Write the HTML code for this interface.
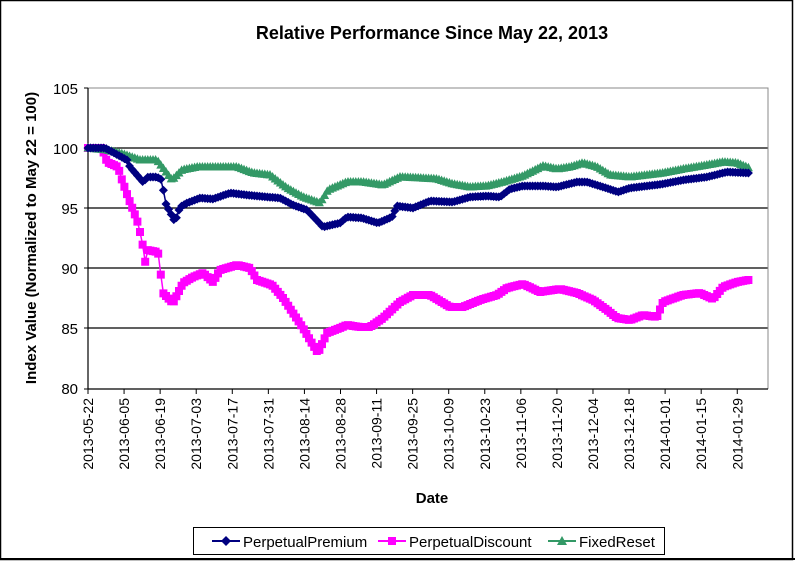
<!DOCTYPE html>
<html><head><meta charset="utf-8"><style>
html,body{margin:0;padding:0;background:#fff;}
svg{display:block;font-family:"Liberation Sans",Arial,sans-serif;}
</style></head><body>
<svg id="c" width="795" height="562" viewBox="0 0 795 562" xmlns="http://www.w3.org/2000/svg">
<rect x="0.5" y="0.5" width="792" height="559" fill="#fff" stroke="#000" stroke-width="1.5"/>
<text x="432" y="39" font-size="18" font-weight="bold" text-anchor="middle">Relative Performance Since May 22, 2013</text>
<g stroke="#000" stroke-width="1.2">
<line x1="88" y1="148" x2="768" y2="148"/><line x1="88" y1="208" x2="768" y2="208"/>
<line x1="88" y1="268" x2="768" y2="268"/><line x1="88" y1="328" x2="768" y2="328"/>
</g>
<polyline points="88,88 768,88 768,389" fill="none" stroke="#888" stroke-width="1"/>
<line x1="88" y1="88" x2="88" y2="389" stroke="#000" stroke-width="1.2"/>
<line x1="88" y1="389" x2="768" y2="389" stroke="#000" stroke-width="1.2"/>
<g id="ticks" stroke="#000" stroke-width="1"></g>
<g font-size="15" text-anchor="end">
<text x="78" y="94">105</text><text x="78" y="154">100</text><text x="78" y="214">95</text>
<text x="78" y="274">90</text><text x="78" y="334">85</text><text x="78" y="394">80</text>
</g>
<g id="xl" font-size="14"></g>
<text transform="translate(36,238) rotate(-90)" font-size="15" font-weight="bold" text-anchor="middle">Index Value (Normalized to May 22 = 100)</text>
<text x="432" y="503" font-size="15" font-weight="bold" text-anchor="middle">Date</text>
<g id="series"></g>
<rect x="193.5" y="527.5" width="471" height="27" fill="#fff" stroke="#000" stroke-width="1"/>
<g font-size="15">
<line x1="212" y1="541" x2="240" y2="541" stroke="#000080" stroke-width="2"/><path d="M226,536 L231,541 L226,546 L221,541Z" fill="#000080"/>
<text x="243" y="547">PerpetualPremium</text>
<line x1="378" y1="541" x2="406" y2="541" stroke="#FF00FF" stroke-width="2"/><rect x="388" y="537" width="8" height="8" fill="#FF00FF"/>
<text x="409" y="547">PerpetualDiscount</text>
<line x1="548" y1="541" x2="576" y2="541" stroke="#339966" stroke-width="2"/><path d="M562,536 L567,545 L557,545Z" fill="#339966"/>
<text x="579" y="547">FixedReset</text>
</g>
<line x1="0" y1="559" x2="795" y2="559" stroke="#000" stroke-width="2"/>
</svg>
<script>
var NS="http://www.w3.org/2000/svg";
function el(t,a,p){var e=document.createElementNS(NS,t);for(var k in a)e.setAttribute(k,a[k]);p.appendChild(e);return e;}
var labels=["2013-05-22","2013-06-05","2013-06-19","2013-07-03","2013-07-17","2013-07-31","2013-08-14","2013-08-28","2013-09-11","2013-09-25","2013-10-09","2013-10-23","2013-11-06","2013-11-20","2013-12-04","2013-12-18","2014-01-01","2014-01-15","2014-01-29"];
var tg=document.getElementById("ticks"),xl=document.getElementById("xl");
labels.forEach(function(l,i){var x=88+36.07*i;el("line",{x1:x,y1:389,x2:x,y2:394},tg);
var t=el("text",{transform:"translate("+(x+5)+",398) rotate(-90)","text-anchor":"end"},xl);t.textContent=l;});
[148,208,268,328,88,389].forEach(function(y){el("line",{x1:84,y1:y,x2:88,y2:y},tg);});
var PP=[[88,148],[105,148],[127,160],[130,167],[143,182],[148,177],[157,177],[162,180],[165,202],[175,222],[180,207],[187,203],[200,198],[213,199],[230,193],[247,195],[267,197],[280,198],[293,205],[307,210],[323,227],[340,223],[347,217],[362,218],[378,223],[392,217],[397,206],[413,208],[430,201],[453,202],[470,197],[487,196],[500,197],[510,189],[523,186],[543,186],[557,187],[577,182],[587,182],[603,187],[618,192],[630,188],[647,186],[663,184],[683,180],[707,177],[727,172],[749,173]];
var FR=[[88,148],[107,150],[123,154],[140,160],[157,160],[172,180],[182,170],[197,167],[220,167],[237,167],[253,173],[270,175],[287,188],[303,197],[320,203],[328,190],[347,182],[363,182],[383,185],[400,177],[420,178],[437,179],[453,184],[470,187],[487,186],[503,182],[523,176],[543,166],[557,169],[570,167],[583,163],[597,167],[610,175],[630,177],[647,175],[663,173],[683,169],[707,165],[723,162],[737,163],[749,168]];
var PD=[[88,148],[102,148],[107,162],[118,167],[122,180],[128,197],[137,220],[142,240],[145,263],[147,250],[158,252],[160,268],[163,293],[173,303],[183,283],[193,277],[203,273],[213,282],[220,270],[237,265],[250,268],[257,280],[272,285],[283,298],[293,313],[303,328],[310,340],[318,353],[327,333],[340,328],[347,325],[360,327],[370,327],[383,318],[400,302],[413,295],[430,295],[450,307],[463,307],[480,300],[497,295],[507,288],[523,284],[540,292],[560,289],[577,293],[593,300],[607,310],[617,318],[630,320],[643,315],[657,317],[663,302],[683,295],[700,293],[713,299],[723,287],[737,282],[748,280]];
function interp(k,x){for(var i=1;i<k.length;i++){if(x<=k[i][0]){var a=k[i-1],b=k[i];return a[1]+(b[1]-a[1])*(x-a[0])/(b[0]-a[0]);}}return k[k.length-1][1];}
var sg=document.getElementById("series");
function draw(k,col,mk){var pts=[];for(var x=88;x<=749.5;x+=2.6){pts.push([x,interp(k,x)]);}
el("polyline",{points:pts.map(function(p){return p[0].toFixed(1)+","+p[1].toFixed(1)}).join(" "),fill:"none",stroke:col,"stroke-width":1.5},sg);
var d="";pts.forEach(function(p){var x=p[0],y=p[1];
if(mk=="d")d+="M"+x+","+(y-4.5)+"L"+(x+4.5)+","+y+"L"+x+","+(y+4.5)+"L"+(x-4.5)+","+y+"Z";
else if(mk=="s")d+="M"+(x-4)+","+(y-4)+"h8v8h-8Z";
else d+="M"+x+","+(y-5)+"L"+(x+4.5)+","+(y+3.5)+"L"+(x-4.5)+","+(y+3.5)+"Z";});
el("path",{d:d,fill:col},sg);}
draw(PD,"#FF00FF","s");draw(FR,"#339966","t");draw(PP,"#000080","d");
</script>
</body></html>
